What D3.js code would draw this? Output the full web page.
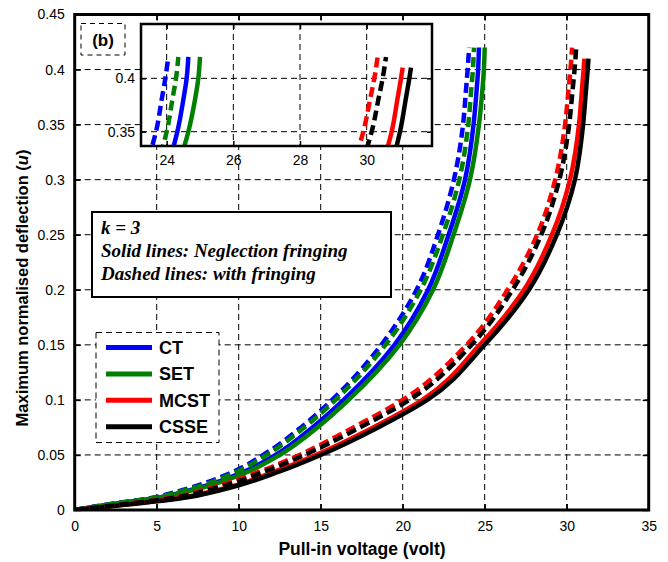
<!DOCTYPE html>
<html>
<head>
<meta charset="utf-8">
<script src="https://d3js.org/d3.v7.min.js"></script>
<style>
  body { margin: 0; background: #fff; }
  svg { display: block; font-family: "Liberation Sans", Arial, sans-serif; }
</style>
</head>
<body>
<script>

// deflection levels (u); every voltage array below has one value per level plus a tip value
var uLevels = [0, 0.005, 0.01, 0.02, 0.035, 0.05, 0.075, 0.1, 0.15, 0.2, 0.25, 0.3, 0.35, 0.38, 0.4];
var models = ["CT", "SET", "MCST", "CSSE"];
var colors = ["#0000ff", "#008000", "#ff0000", "#000000"];

// pull-in voltage (volt)
var ctSolid    = [0, 2.15, 4.6, 7.5, 10.35, 12.25, 14.5, 16.4, 19.5, 21.55, 22.8, 23.8, 24.32, 24.5, 24.6, 24.65];
var setSolid   = [0, 2.2, 4.7, 7.7, 10.6, 12.5, 14.8, 16.7, 19.8, 21.85, 23.1, 24.1, 24.65, 24.85, 24.95, 25.0];
var mcstSolid  = [0, 3.1, 6.0, 9.2, 12.2, 14.7, 18.2, 21.2, 24.7, 27.4, 29.1, 30.2, 30.75, 30.92, 31.03, 31.08];
var csseSolid  = [0, 3.2, 6.2, 9.4, 12.5, 15.0, 18.5, 21.5, 25.0, 27.7, 29.4, 30.5, 31.0, 31.17, 31.28, 31.33];
var ctDashed   = [0, 2.0, 4.3, 7.0, 9.7, 11.5, 13.8, 15.7, 18.7, 20.85, 22.15, 23.12, 23.68, 23.85, 23.96, 24.05];
var setDashed  = [0, 2.05, 4.4, 7.2, 9.9, 11.7, 14.0, 15.9, 18.95, 21.1, 22.45, 23.45, 24.0, 24.17, 24.28, 24.35];
var mcstDashed = [0, 2.8, 5.4, 8.3, 11.3, 13.7, 17.0, 20.0, 23.9, 26.4, 28.2, 29.3, 29.9, 30.1, 30.23, 30.33];
var csseDashed = [0, 2.9, 5.6, 8.6, 11.6, 14.0, 17.4, 20.4, 24.2, 26.7, 28.45, 29.55, 30.15, 30.35, 30.48, 30.58];

// u at the tip of each curve (CT, SET, MCST, CSSE)
var tipSolid  = [0.42, 0.42, 0.41, 0.41];
var tipDashed = [0.42, 0.42, 0.42, 0.42];

var xTicks = [0, 5, 10, 15, 20, 25, 30, 35];
var yTicks = [0, 0.05, 0.1, 0.15, 0.2, 0.25, 0.3, 0.35, 0.4, 0.45];
var insetXTicks = [24, 26, 28, 30];
var insetYTicks = [0.35, 0.4];
var noteLines = ["k = 3", "Solid lines: Neglection fringing", "Dashed lines: with fringing"];

function makeSeries(volts, tip) {
	var u = uLevels.concat([tip]);
	return volts.map(function(v, i) { return [v, u[i]]; });
}

var solids = [ctSolid, setSolid, mcstSolid, csseSolid].map(function(v, i) { return makeSeries(v, tipSolid[i]); });
var dashes = [ctDashed, setDashed, mcstDashed, csseDashed].map(function(v, i) { return makeSeries(v, tipDashed[i]); });

var svg = d3.select("body").append("svg").attr("width", 668).attr("height", 562);

var x = d3.scaleLinear().domain([0, 35]).range([74.7, 648.7]);
var y = d3.scaleLinear().domain([0, 0.45]).range([510, 14.5]);

// grid
var grid = svg.append("g").attr("stroke", "#000").attr("stroke-width", 1).attr("stroke-dasharray", "6,4");
grid.selectAll(".gx").data(xTicks.slice(1, -1)).enter().append("line")
	.attr("x1", x).attr("x2", x).attr("y1", y(0)).attr("y2", y(0.45));
grid.selectAll(".gy").data(yTicks.slice(1, -1)).enter().append("line")
	.attr("y1", y).attr("y2", y).attr("x1", x(0)).attr("x2", x(35));

function drawCurves(g, xs, ys, w) {
	var line = d3.line().x(function(d) { return xs(d[0]); }).y(function(d) { return ys(d[1]); })
		.curve(d3.curveMonotoneY);
	solids.forEach(function(s, i) {
		g.append("path").attr("d", line(s)).attr("fill", "none")
			.attr("stroke", colors[i]).attr("stroke-width", w);
	});
	dashes.forEach(function(s, i) {
		g.append("path").attr("d", line(s)).attr("fill", "none")
			.attr("stroke", colors[i]).attr("stroke-width", w).attr("stroke-dasharray", "10,5");
	});
}

svg.append("clipPath").attr("id", "mainclip").append("rect")
	.attr("x", x(0)).attr("y", y(0.45)).attr("width", x(35) - x(0)).attr("height", y(0) - y(0.45));
drawCurves(svg.append("g").attr("clip-path", "url(#mainclip)"), x, y, 4.5);

// main axes
var axB = svg.append("g").attr("transform", "translate(0," + y(0) + ")")
	.call(d3.axisBottom(x).tickValues(xTicks).tickSize(-6).tickPadding(11).tickFormat(d3.format("d")));
var axT = svg.append("g").attr("transform", "translate(0," + y(0.45) + ")")
	.call(d3.axisTop(x).tickValues(xTicks).tickSize(-6).tickFormat(""));
var axL = svg.append("g").attr("transform", "translate(" + x(0) + ",0)")
	.call(d3.axisLeft(y).tickValues(yTicks).tickSize(-6).tickPadding(10).tickFormat(function(d) { return d3.format("")(+d.toFixed(2)); }));
var axR = svg.append("g").attr("transform", "translate(" + x(35) + ",0)")
	.call(d3.axisRight(y).tickValues(yTicks).tickSize(-6).tickFormat(""));
[axB, axT, axL, axR].forEach(function(a) {
	a.select(".domain").remove();
	a.selectAll(".tick line").attr("stroke", "#000").attr("stroke-width", 1.5);
	a.selectAll("text").attr("font-size", 14).attr("fill", "#000")
		.attr("font-family", "'Liberation Sans', Arial, sans-serif");
});
svg.append("rect").attr("x", x(0)).attr("y", y(0.45)).attr("width", x(35) - x(0)).attr("height", y(0) - y(0.45))
	.attr("fill", "none").attr("stroke", "#000").attr("stroke-width", 3);

// axis titles
svg.append("text").attr("x", 362).attr("y", 555).attr("text-anchor", "middle")
	.attr("font-weight", "bold").attr("font-size", 17.5).text("Pull-in voltage (volt)");
var yl = svg.append("text").attr("transform", "translate(28,288) rotate(-90)").attr("text-anchor", "middle")
	.attr("font-weight", "bold").attr("font-size", 16.5);
yl.append("tspan").text("Maximum normalised deflection (");
yl.append("tspan").attr("font-style", "italic").text("u");
yl.append("tspan").text(")");

// (b) label
svg.append("rect").attr("x", 81).attr("y", 23.5).attr("width", 44).attr("height", 31.5)
	.attr("fill", "#fff").attr("stroke", "#000").attr("stroke-width", 1).attr("stroke-dasharray", "5,4");
svg.append("text").attr("x", 103).attr("y", 46).attr("text-anchor", "middle")
	.attr("font-weight", "bold").attr("font-size", 17).text("(b)");

// inset
var ix = d3.scaleLinear().domain([23.23, 31.96]).range([141, 432]);
var iy = d3.scaleLinear().domain([0.3366, 0.4509]).range([146, 24]);
var inset = svg.append("g");
inset.append("rect").attr("x", 141).attr("y", 24).attr("width", 291).attr("height", 122).attr("fill", "#fff");
var igrid = inset.append("g").attr("stroke", "#000").attr("stroke-width", 1).attr("stroke-dasharray", "6,4");
igrid.selectAll("line.v").data(insetXTicks).enter().append("line")
	.attr("x1", ix).attr("x2", ix).attr("y1", 24).attr("y2", 146);
igrid.selectAll("line.h").data(insetYTicks).enter().append("line")
	.attr("y1", iy).attr("y2", iy).attr("x1", 141).attr("x2", 432);
svg.append("clipPath").attr("id", "insetclip").append("rect")
	.attr("x", 141).attr("y", 24).attr("width", 291).attr("height", 122);
drawCurves(inset.append("g").attr("clip-path", "url(#insetclip)"), ix, iy, 4.5);
var iaxB = inset.append("g").attr("transform", "translate(0,146)")
	.call(d3.axisBottom(ix).tickValues(insetXTicks).tickSize(-5).tickPadding(9));
var iaxT = inset.append("g").attr("transform", "translate(0,24)")
	.call(d3.axisTop(ix).tickValues(insetXTicks).tickSize(-5).tickFormat(""));
var iaxL = inset.append("g").attr("transform", "translate(141,0)")
	.call(d3.axisLeft(iy).tickValues(insetYTicks).tickSize(-5).tickPadding(6).tickFormat(function(d) { return String(d); }));
var iaxR = inset.append("g").attr("transform", "translate(432,0)")
	.call(d3.axisRight(iy).tickValues(insetYTicks).tickSize(-5).tickFormat(""));
[iaxB, iaxT, iaxL, iaxR].forEach(function(a) {
	a.select(".domain").remove();
	a.selectAll(".tick line").attr("stroke", "#000").attr("stroke-width", 1.5);
	a.selectAll("text").attr("font-size", 14).attr("fill", "#000")
		.attr("font-family", "'Liberation Sans', Arial, sans-serif");
});
inset.append("rect").attr("x", 141).attr("y", 24).attr("width", 291).attr("height", 122)
	.attr("fill", "none").attr("stroke", "#000").attr("stroke-width", 2.5);

// note box
svg.append("rect").attr("x", 92).attr("y", 212).attr("width", 299).attr("height", 85)
	.attr("fill", "#fff").attr("stroke", "#000").attr("stroke-width", 2);
svg.selectAll("text.note").data(noteLines).enter().append("text")
	.attr("x", 101).attr("y", function(d, i) { return 234 + i * 23; })
	.attr("font-family", "'Liberation Serif', 'Times New Roman', serif")
	.attr("font-style", "italic").attr("font-weight", "bold").attr("font-size", 19)
	.text(function(d) { return d; });

// legend
svg.append("rect").attr("x", 96).attr("y", 332.5).attr("width", 123).attr("height", 110)
	.attr("fill", "#fff").attr("stroke", "#000").attr("stroke-width", 1).attr("stroke-dasharray", "6,4");
var leg = svg.selectAll("g.leg").data(models).enter().append("g")
	.attr("transform", function(d, i) { return "translate(0," + (347.5 + i * 26.4) + ")"; });
leg.append("line").attr("x1", 106).attr("x2", 152).attr("stroke-width", 5)
	.attr("stroke", function(d, i) { return colors[i]; });
leg.append("text").attr("x", 159).attr("y", 6.5).attr("font-weight", "bold").attr("font-size", 18)
	.text(function(d) { return d; });

</script>
</body>
</html>
